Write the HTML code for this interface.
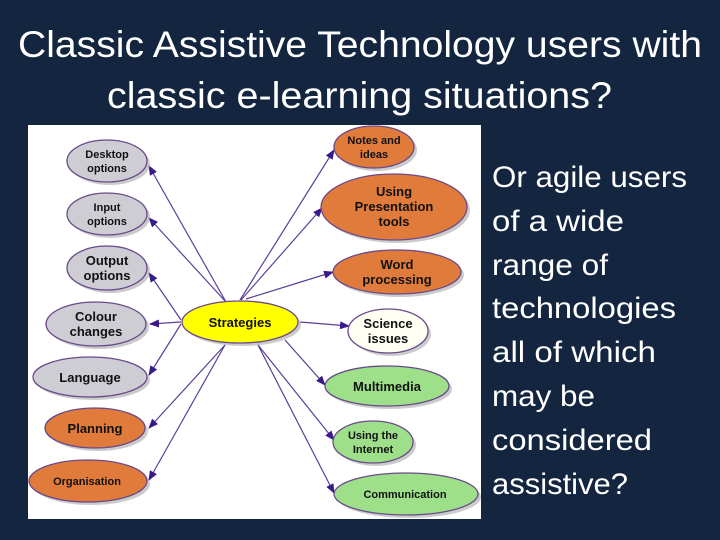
<!DOCTYPE html>
<html><head><meta charset="utf-8"><style>
html,body{margin:0;padding:0;background:#13253f;}
svg{display:block}
</style></head><body>
<svg width="720" height="540" viewBox="0 0 720 540" xmlns="http://www.w3.org/2000/svg" font-family="Liberation Sans, sans-serif">
<rect width="720" height="540" fill="#13253f"/>
<g fill="#fff" font-size="37">
<text x="18" y="57" textLength="684" lengthAdjust="spacingAndGlyphs">Classic Assistive Technology users with</text>
<text x="107" y="108" textLength="505" lengthAdjust="spacingAndGlyphs">classic e-learning situations?</text>
</g>
<g fill="#fff" font-size="30">
<text x="492" y="187" textLength="195" lengthAdjust="spacingAndGlyphs">Or agile users</text>
<text x="492" y="231" textLength="132" lengthAdjust="spacingAndGlyphs">of a wide</text>
<text x="492" y="275" textLength="116" lengthAdjust="spacingAndGlyphs">range of</text>
<text x="492" y="318" textLength="184" lengthAdjust="spacingAndGlyphs">technologies</text>
<text x="492" y="362" textLength="164" lengthAdjust="spacingAndGlyphs">all of which</text>
<text x="492" y="406" textLength="103" lengthAdjust="spacingAndGlyphs">may be</text>
<text x="492" y="450" textLength="160" lengthAdjust="spacingAndGlyphs">considered</text>
<text x="492" y="494" textLength="136" lengthAdjust="spacingAndGlyphs">assistive?</text>
</g>
<rect x="28" y="125" width="453" height="394" fill="#fff"/>
<defs>
<marker id="a" markerWidth="10" markerHeight="8" refX="9" refY="4" orient="auto" markerUnits="userSpaceOnUse">
<path d="M0,0 L10,4 L0,8 z" fill="#3a1a8a"/></marker>
</defs>
<g stroke="#5a3f9a" stroke-width="1.2" marker-end="url(#a)">
<line x1="226" y1="302" x2="149" y2="166"/>
<line x1="226" y1="302" x2="149" y2="218"/>
<line x1="181" y1="320" x2="149" y2="273"/>
<line x1="181" y1="322" x2="150" y2="324"/>
<line x1="181" y1="324" x2="149" y2="375"/>
<line x1="225" y1="345" x2="149" y2="428"/>
<line x1="225" y1="345" x2="149" y2="480"/>
<line x1="240" y1="300" x2="334" y2="150"/>
<line x1="241" y1="300" x2="322" y2="208"/>
<line x1="246" y1="299" x2="333" y2="272"/>
<line x1="300" y1="322" x2="349" y2="326"/>
<line x1="285" y1="340" x2="325" y2="385"/>
<line x1="258" y1="345" x2="334" y2="440"/>
<line x1="258" y1="345" x2="334" y2="493"/>
</g>
<g stroke="#6a4a8a" stroke-width="1.3">
<g fill="#aaa" stroke="none" opacity="0.6">
<ellipse cx="110" cy="164" rx="40" ry="21"/><ellipse cx="110" cy="217" rx="40" ry="21"/>
<ellipse cx="110" cy="271" rx="40" ry="22"/><ellipse cx="99" cy="327" rx="50" ry="22"/>
<ellipse cx="93" cy="380" rx="57" ry="20"/><ellipse cx="98" cy="431" rx="50" ry="20"/>
<ellipse cx="91" cy="484" rx="59" ry="21"/><ellipse cx="243" cy="325" rx="58" ry="21"/>
<ellipse cx="377" cy="150" rx="40" ry="21"/><ellipse cx="397" cy="210" rx="73" ry="33"/>
<ellipse cx="400" cy="275" rx="64" ry="22"/><ellipse cx="391" cy="334" rx="40" ry="22"/>
<ellipse cx="390" cy="389" rx="62" ry="20"/><ellipse cx="376" cy="445" rx="40" ry="21"/>
<ellipse cx="409" cy="497" rx="72" ry="21"/>
</g>
<ellipse cx="107" cy="161" rx="40" ry="21" fill="#cdcdd3"/>
<ellipse cx="107" cy="214" rx="40" ry="21" fill="#cdcdd3"/>
<ellipse cx="107" cy="268" rx="40" ry="22" fill="#cdcdd3"/>
<ellipse cx="96" cy="324" rx="50" ry="22" fill="#cdcdd3"/>
<ellipse cx="90" cy="377" rx="57" ry="20" fill="#cdcdd3"/>
<ellipse cx="95" cy="428" rx="50" ry="20" fill="#e07b3c"/>
<ellipse cx="88" cy="481" rx="59" ry="21" fill="#e07b3c"/>
<ellipse cx="240" cy="322" rx="58" ry="21" fill="#ffff00"/>
<ellipse cx="374" cy="147" rx="40" ry="21" fill="#e07b3c"/>
<ellipse cx="394" cy="207" rx="73" ry="33" fill="#e07b3c"/>
<ellipse cx="397" cy="272" rx="64" ry="22" fill="#e07b3c"/>
<ellipse cx="388" cy="331" rx="40" ry="22" fill="#fffff4"/>
<ellipse cx="387" cy="386" rx="62" ry="20" fill="#9ee08a"/>
<ellipse cx="373" cy="442" rx="40" ry="21" fill="#9ee08a"/>
<ellipse cx="406" cy="494" rx="72" ry="21" fill="#9ee08a"/>
</g>
<g fill="#111" font-weight="bold" text-anchor="middle">
<g font-size="11">
<text x="107" y="158">Desktop</text><text x="107" y="172">options</text>
<text x="107" y="211">Input</text><text x="107" y="225">options</text>
<text x="374" y="144">Notes and</text><text x="374" y="158">ideas</text>
<text x="373" y="439">Using the</text><text x="373" y="453">Internet</text>
<text x="87" y="485">Organisation</text>
<text x="405" y="498">Communication</text>
</g>
<g font-size="13">
<text x="107" y="265">Output</text><text x="107" y="280">options</text>
<text x="96" y="321">Colour</text><text x="96" y="336">changes</text>
<text x="90" y="382">Language</text>
<text x="95" y="433">Planning</text>
<text x="240" y="327">Strategies</text>
<text x="394" y="196">Using</text><text x="394" y="211">Presentation</text><text x="394" y="226">tools</text>
<text x="397" y="269">Word</text><text x="397" y="284">processing</text>
<text x="388" y="328">Science</text><text x="388" y="343">issues</text>
<text x="387" y="391">Multimedia</text>
</g>
</g>
</svg>
</body></html>
